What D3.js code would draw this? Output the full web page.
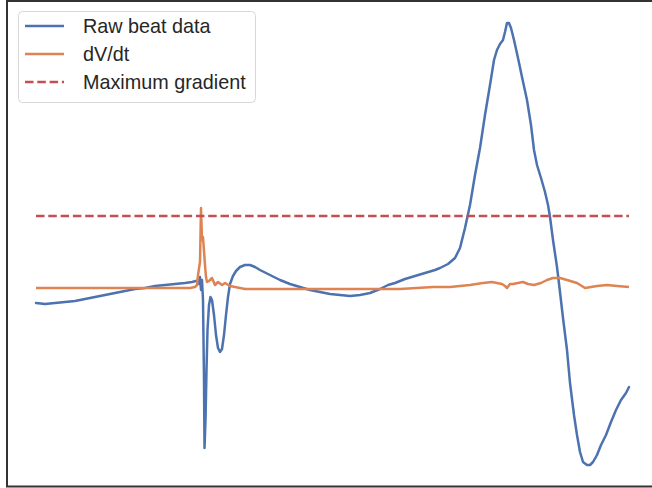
<!DOCTYPE html>
<html>
<head>
<meta charset="utf-8">
<script src="https://cdn.jsdelivr.net/npm/d3@7"></script>
<style>
  html, body { margin: 0; padding: 0; background: #fff; }
  svg { display: block; }
</style>
</head>
<body>
<svg id="chart" width="652" height="488"></svg>
<script>
// Beat trace: sample index and raw voltage (arbitrary units)
const rawT = [0, 9, 19, 29, 39, 49, 59, 69, 79, 89, 99, 109, 119, 129, 139, 149, 156, 160, 162, 163, 164, 165, 166, 167, 168, 168.5, 169.5, 170.5, 171.5, 173, 174.5, 176, 178, 180, 182, 184, 186, 188, 190, 192, 194, 197, 200, 204, 209, 214, 219, 224, 234, 244, 254, 264, 274, 284, 294, 304, 314, 324, 334, 344, 352, 359, 369, 379, 389, 399, 404, 412, 419, 424, 429, 434, 439, 444, 449, 454, 458, 461, 464, 467, 469, 471, 473, 475, 478, 482, 486, 491, 495, 498, 501, 505, 509, 512, 514, 517, 521, 524, 527, 531, 534, 538, 541, 544, 547, 551, 554, 557, 561, 565, 570, 575, 580, 585, 590, 593];
const rawV = [-0.15, -0.16, -0.15, -0.14, -0.13, -0.11, -0.09, -0.07, -0.05, -0.03, -0.01, 0.00, 0.02, 0.03, 0.04, 0.05, 0.06, 0.07, 0.08, 0.04, 0.11, -0.02, 0.08, -0.12, -0.92, -1.60, -1.32, -0.82, -0.42, -0.17, -0.09, -0.12, -0.27, -0.47, -0.60, -0.64, -0.61, -0.47, -0.27, -0.09, 0.04, 0.12, 0.17, 0.21, 0.23, 0.23, 0.21, 0.18, 0.13, 0.08, 0.04, 0.01, -0.02, -0.04, -0.06, -0.07, -0.08, -0.07, -0.05, -0.01, 0.03, 0.05, 0.09, 0.12, 0.15, 0.18, 0.20, 0.24, 0.30, 0.40, 0.60, 0.83, 1.13, 1.40, 1.73, 2.03, 2.28, 2.38, 2.44, 2.48, 2.56, 2.65, 2.65, 2.60, 2.48, 2.30, 2.11, 1.88, 1.63, 1.38, 1.23, 1.10, 0.96, 0.83, 0.71, 0.48, 0.21, -0.04, -0.30, -0.62, -0.95, -1.27, -1.47, -1.64, -1.74, -1.77, -1.77, -1.74, -1.67, -1.57, -1.47, -1.34, -1.22, -1.12, -1.05, -0.99, -0.95];

// Derivative trace on the same sample axis
const dvdtT = [0, 24, 64, 104, 134, 154, 159, 161, 162, 164, 165, 166, 167, 169, 170, 171, 173, 176, 179, 182, 186, 189, 194, 199, 209, 224, 264, 314, 364, 397, 414, 434, 447, 456, 461, 466, 469, 471, 474, 477, 482, 487, 492, 498, 505, 511, 517, 524, 531, 541, 549, 561, 571, 581, 593];
const dvdtV = [0.00, 0.00, 0.00, 0.00, 0.00, 0.00, 0.01, 0.03, 0.13, 0.26, 0.80, 0.48, 0.51, 0.23, 0.11, 0.06, 0.07, 0.10, 0.03, 0.06, 0.03, 0.05, 0.02, 0.01, -0.01, -0.01, -0.01, -0.01, -0.01, 0.01, 0.01, 0.03, 0.05, 0.06, 0.05, 0.04, 0.02, 0.00, 0.04, 0.04, 0.05, 0.06, 0.04, 0.03, 0.05, 0.08, 0.10, 0.10, 0.08, 0.05, 0.00, 0.02, 0.03, 0.02, 0.01];

// Threshold level
const maxGradient = 0.72;

const seriesNames = ["Raw beat data", "dV/dt", "Maximum gradient"];
const seriesColors = ["#4c72b0", "#dd8452", "#c44e52"];

const svg = d3.select("#chart");

const x = d3.scaleLinear().domain([0, 593]).range([36, 629]);
const y = d3.scaleLinear().domain([-1.98, 2.88]).range([486, 0]);

// Axes frame (left, top, bottom spines)
svg.append("rect")
  .attr("x", 7).attr("y", 1)
  .attr("width", 660).attr("height", 485.5)
  .attr("fill", "none")
  .attr("stroke", "#333")
  .attr("stroke-width", 2);

const line = d3.line().x(d => x(d[0])).y(d => y(d[1]));

svg.append("path")
  .datum(rawT.map((t, i) => [t, rawV[i]]))
  .attr("d", line)
  .attr("fill", "none")
  .attr("stroke", seriesColors[0])
  .attr("stroke-width", 2.5)
  .attr("stroke-linejoin", "round")
  .attr("stroke-linecap", "round");

svg.append("path")
  .datum(dvdtT.map((t, i) => [t, dvdtV[i]]))
  .attr("d", line)
  .attr("fill", "none")
  .attr("stroke", seriesColors[1])
  .attr("stroke-width", 2.5)
  .attr("stroke-linejoin", "round");

svg.append("line")
  .attr("x1", x(0)).attr("x2", x(593))
  .attr("y1", y(maxGradient)).attr("y2", y(maxGradient))
  .attr("stroke", seriesColors[2])
  .attr("stroke-width", 2.5)
  .attr("stroke-dasharray", "8.5,3.8");

// Legend
const legend = svg.append("g");
legend.append("rect")
  .attr("x", 18.5).attr("y", 11.5)
  .attr("width", 237).attr("height", 91)
  .attr("rx", 4)
  .attr("fill", "#fff")
  .attr("fill-opacity", 0.8)
  .attr("stroke", "#d8d8d8");

seriesNames.forEach((name, i) => {
  const cy = 26 + i * 28;
  legend.append("line")
    .attr("x1", 25).attr("x2", 64)
    .attr("y1", cy).attr("y2", cy)
    .attr("stroke", seriesColors[i])
    .attr("stroke-width", 2.5)
    .attr("stroke-dasharray", i === 2 ? "8.5,3.8" : null);
  legend.append("text")
    .attr("x", 83).attr("y", cy)
    .attr("dy", "0.35em")
    .attr("font-family", "Liberation Sans, Arial, sans-serif")
    .attr("font-size", 19.8)
    .attr("fill", "#262626")
    .text(name);
});
</script>
</body>
</html>
